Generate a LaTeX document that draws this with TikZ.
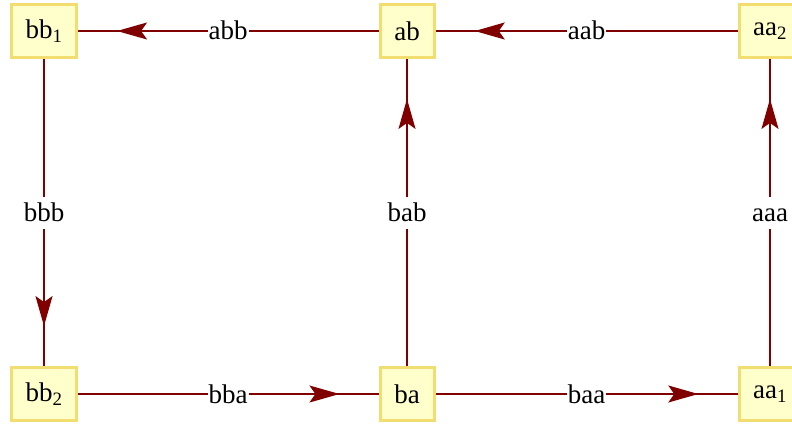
\documentclass[tikz,border=0pt]{standalone}
\usepackage{fontspec}
\setmainfont{Liberation Serif}
\usetikzlibrary{arrows.meta,decorations.markings}

\definecolor{statefill}{RGB}{255,255,204}
\definecolor{stateline}{RGB}{242,222,112}
\definecolor{edgecol}{RGB}{128,0,0}

\tikzset{
  state/.style={rectangle, draw=stateline, fill=statefill, line width=3pt,
    minimum width=54pt, minimum height=53pt, inner xsep=14pt},
  edge/.style={draw=edgecol, line width=1.4pt,
    postaction={decorate},
    decoration={markings, mark=at position 0.87 with
      {\arrow{Stealth[length=30pt, width=17pt, inset=6pt, color=edgecol]}}}},
  lbl/.style={fill=white, inner xsep=1pt, inner ysep=7pt,
    text height=18pt, text depth=0pt}
}

\begin{document}
\begin{tikzpicture}[x=1pt, y=-1pt]
  \fontsize{27}{32}\selectfont
  \useasboundingbox (0,0) rectangle (792,428);

  % Word states
  \foreach \name/\x/\y/\txt in {bbA/44/31/{bb\textsubscript{1}},
                                ab/407/31/{ab},
                                aaB/770/31/{aa\textsubscript{2}},
                                bbB/44/394/{bb\textsubscript{2}},
                                ba/407/394/{ba},
                                aaA/770/394/{aa\textsubscript{1}}} {
    \node[state] (\name) at (\x,\y) {\txt};
  }

  % Transitions
  \draw[edge] (ab) -- node[lbl] {abb} (bbA);
  \draw[edge] (aaB) -- node[lbl] {aab} (ab);
  \draw[edge] (bbA) -- node[lbl] {bbb} (bbB);
  \draw[edge] (ba) -- node[lbl] {bab} (ab);
  \draw[edge] (aaA) -- node[lbl] {aaa} (aaB);
  \draw[edge] (bbB) -- node[lbl] {bba} (ba);
  \draw[edge] (ba) -- node[lbl] {baa} (aaA);
\end{tikzpicture}
\end{document}
